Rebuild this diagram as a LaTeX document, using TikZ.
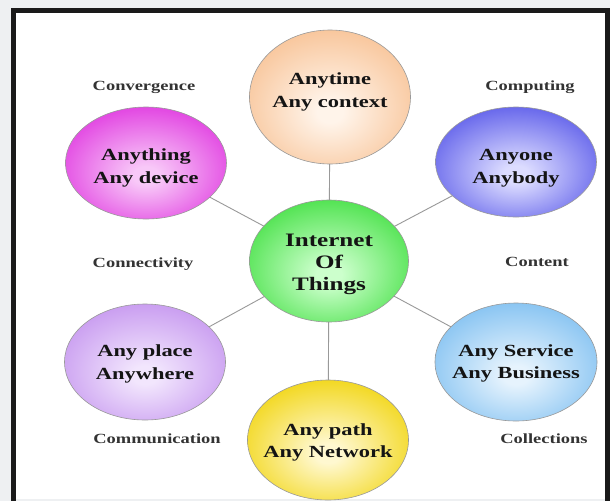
\documentclass[tikz,border=0pt]{standalone}
\usepackage{fontspec}
\setmainfont{Liberation Serif}[FakeStretch=1.32]
\usetikzlibrary{shapes.geometric}
\pgfdeclarelayer{bg}
\pgfdeclarelayer{lines}
\pgfsetlayers{bg,lines,main}
\newcommand\mkball[3]{%
  \definecolor{#1out}{HTML}{#2}\definecolor{#1in}{HTML}{#3}%
  \pgfdeclareradialshading{#1sh}{\pgfpoint{0bp}{-6bp}}{color(0bp)=(#1in); color(4bp)=(#1in); color(33bp)=(#1out); color(60bp)=(#1out)}}
\newcommand\tup[1]{\rule[-#1]{0pt}{0pt}}
\newcommand\tdn[1]{\rule{0pt}{#1}}
\mkball{peach}{F7BE8E}{FFF4EA}
\mkball{mag}{DE2EDE}{F8C8F8}
\mkball{blu}{5252E8}{DCDCFF}
\mkball{grn}{3CDE3C}{CCFFCC}
\mkball{lav}{C290EE}{F2E6FD}
\mkball{lbl}{78BCF0}{E6F3FD}
\mkball{yel}{F0D200}{FFF8D0}
\definecolor{pagegray}{HTML}{EEF0F2}
\definecolor{framedark}{HTML}{1A1A1A}
\tikzset{
  ball/.style={ellipse, inner sep=-20pt, draw=black!40, line width=0.6pt,
    minimum width=161pt, align=center, text=black!92,
    font=\bfseries\fontsize{17}{22.5}\selectfont},
  lab/.style={font=\bfseries\fontsize{14}{16}\selectfont, text=black!80, inner sep=0pt},
  link/.style={draw=black!40, line width=0.9pt}
}
\begin{document}
\begin{tikzpicture}[x=1pt,y=-1pt]
\useasboundingbox (0,0) rectangle (610,501);
\begin{pgfonlayer}{bg}
\fill[pagegray] (0,0) rectangle (610,501);
\fill[framedark] (11,8) rectangle (610,501);
\fill[white] (16,13) rectangle (605,499);
\fill[pagegray] (16,499) rectangle (605,501);
\end{pgfonlayer}
% circles
\node[ball, shading=peachsh, minimum height=134pt] (peach) at (330,97) {Anytime\\Any context\tup{14pt}};
\node[ball, shading=magsh, minimum height=112pt] (mag) at (146,163) {\tdn{22pt}Anything\\Any device};
\node[ball, shading=blush, minimum height=110pt] (blu) at (516,162) {\tdn{24pt}Anyone\\Anybody};
\node[ball, shading=grnsh, minimum width=159pt, minimum height=122pt,
  font=\bfseries\fontsize{19}{22}\selectfont] (iot) at (329,261) {\tdn{19pt}Internet\\Of\\Things};
\node[ball, shading=lavsh, minimum height=116pt] (lav) at (145,362) {\tdn{16pt}Any place\\Anywhere};
\node[ball, shading=lblsh, minimum width=162pt, minimum height=118pt] (lbl) at (516,362) {\tdn{15pt}Any Service\\Any Business};
\node[ball, shading=yelsh, minimum height=120pt] (yel) at (328,440) {\tdn{17pt}Any path\\Any Network};
% connectors
\begin{pgfonlayer}{lines}
\draw[link] (iot.center) -- (peach.center);
\draw[link] (iot.center) -- (mag.center);
\draw[link] (iot.center) -- (blu.center);
\draw[link] (iot.center) -- (lav.center);
\draw[link] (iot.center) -- (lbl.center);
\draw[link] (iot.center) -- (yel.center);
\end{pgfonlayer}
% labels
\node[lab] (l1) at (144,87) {Convergence};
\node[lab] (l2) at (530,87) {Computing};
\node[lab] (l3) at (143,264) {Connectivity};
\node[lab] (l4) at (537,262) {Content};
\node[lab] (l5) at (157,439) {Communication};
\node[lab] (l6) at (544,439) {Collections};
\end{tikzpicture}
\end{document}
